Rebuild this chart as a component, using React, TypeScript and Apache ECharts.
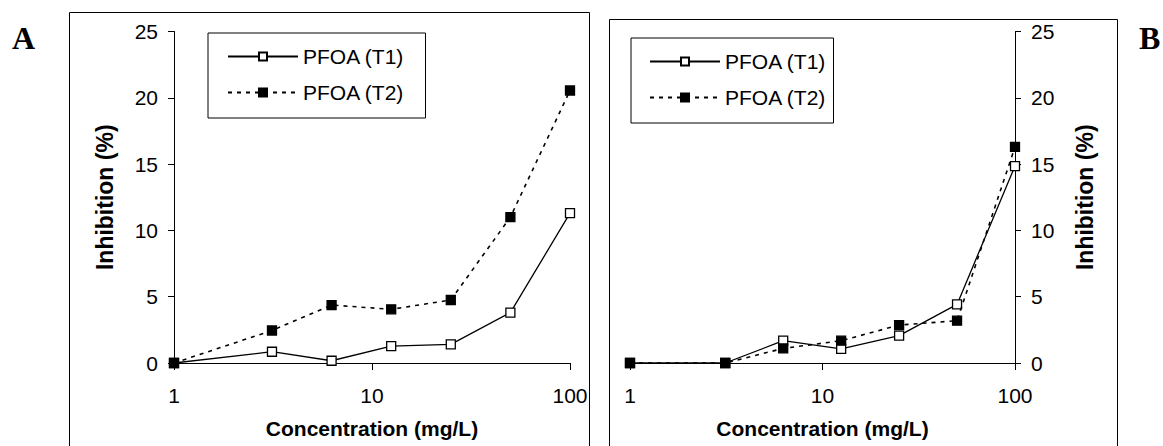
import React, { useEffect, useRef } from "react";
import * as echarts from "echarts";

// ---- data ----
const concentrations = [1, 3.125, 6.25, 12.5, 25, 50, 100];
const panelA_T1 = [0, 0.85, 0.17, 1.28, 1.4, 3.8, 11.3];
const panelA_T2 = [0, 2.45, 4.37, 4.05, 4.75, 11.0, 20.55];
const panelB_T1 = [0, 0, 1.68, 1.07, 2.06, 4.42, 14.85];
const panelB_T2 = [0, 0, 1.1, 1.68, 2.86, 3.19, 16.3];
const seriesNames = ["PFOA (T1)", "PFOA (T2)"];
const panelLabels = ["A", "B"];
const xTitle = "Concentration (mg/L)";
const yTitle = "Inhibition (%)";
const yMin = 0;
const yMax = 25;
const yInterval = 5;
const xMin = 1;
const xMax = 100;

const FONT = "Liberation Sans, Arial, sans-serif";

const pairs = (vals: number[]) => concentrations.map((c, i) => [c, vals[i]]);

export default function App() {
  const ref = useRef<HTMLDivElement>(null);

  useEffect(() => {
    document.body.style.margin = "0";
    const chart = echarts.init(ref.current!, undefined, { renderer: "svg" });

    const xAxis = (gridIndex: number) => ({
      type: "log",
      logBase: 10,
      min: xMin,
      max: xMax,
      gridIndex,
      axisLine: { show: true, onZero: false, lineStyle: { color: "#000", width: 1 } },
      axisTick: { show: true, length: 7, lineStyle: { color: "#000", width: 1 } },
      minorTick: { show: false },
      splitLine: { show: false },
      minorSplitLine: { show: false },
      axisLabel: { color: "#000", fontSize: 21, fontFamily: FONT, margin: 22 },
      name: xTitle,
      nameLocation: "middle",
      nameGap: 55,
      nameTextStyle: { color: "#000", fontSize: 21, fontWeight: "bold", fontFamily: FONT },
    });

    const yAxis = (gridIndex: number, position: "left" | "right") => ({
      type: "value",
      min: yMin,
      max: yMax,
      interval: yInterval,
      gridIndex,
      position,
      axisLine: { show: true, lineStyle: { color: "#000", width: 1 } },
      axisTick: { show: true, length: 6, lineStyle: { color: "#000", width: 1 } },
      splitLine: { show: false },
      axisLabel: { color: "#000", fontSize: 21, fontFamily: FONT, margin: 16 },
      name: yTitle,
      nameLocation: "middle",
      nameRotate: 90,
      nameGap: 58,
      nameTextStyle: { color: "#000", fontSize: 23, fontWeight: "bold", fontFamily: FONT },
    });

    const line = (name: string, vals: number[], idx: number, dashed: boolean) => ({
      type: "line",
      name,
      xAxisIndex: idx,
      yAxisIndex: idx,
      data: pairs(vals),
      symbol: "rect",
      symbolSize: 9,
      showSymbol: true,
      silent: true,
      z: dashed ? 3 : 2,
      lineStyle: { color: "#000", width: dashed ? 1.6 : 1.3, type: dashed ? [4, 5] : "solid" },
      itemStyle: { color: dashed ? "#000" : "#fff", borderColor: "#000", borderWidth: 1.3 },
      emphasis: { disabled: true },
    });

    const legendBase = {
      data: seriesNames,
      orient: "vertical",
      itemWidth: 70,
      itemHeight: 10,
      itemGap: 15,
      borderColor: "#000",
      borderWidth: 1,
      selectedMode: false,
      textStyle: { color: "#000", fontSize: 21, fontFamily: FONT },
    };

    chart.setOption({
      animation: false,
      grid: [
        { left: 174, top: 31.5, width: 396, height: 331.5 },
        { left: 630, top: 31.5, width: 385, height: 331.5 },
      ],
      xAxis: [xAxis(0), xAxis(1)],
      yAxis: [yAxis(0, "left"), yAxis(1, "right")],
      legend: [
        { ...legendBase, left: 208, top: 33, padding: [13, 21, 15, 19] },
        { ...legendBase, left: 631, top: 38, padding: [13, 7, 15, 18] },
      ],
      series: [
        line(seriesNames[0], panelA_T1, 0, false),
        line(seriesNames[1], panelA_T2, 0, true),
        line(seriesNames[0], panelB_T1, 1, false),
        line(seriesNames[1], panelB_T2, 1, true),
      ],
      graphic: [
        {
          type: "rect",
          silent: true,
          shape: { x: 69.5, y: 12.5, width: 520, height: 460 },
          style: { fill: "rgba(0,0,0,0)", stroke: "#000", lineWidth: 1 },
        },
        {
          type: "rect",
          silent: true,
          shape: { x: 609.5, y: 19.5, width: 508, height: 460 },
          style: { fill: "rgba(0,0,0,0)", stroke: "#000", lineWidth: 1 },
        },
        {
          type: "text",
          x: 12,
          y: 38,
          style: {
            text: panelLabels[0],
            font: 'bold 32px "Liberation Serif", "Times New Roman", serif',
            fill: "#000",
            verticalAlign: "middle",
          },
        },
        {
          type: "text",
          x: 1139,
          y: 38,
          style: {
            text: panelLabels[1],
            font: 'bold 32px "Liberation Serif", "Times New Roman", serif',
            fill: "#000",
            verticalAlign: "middle",
          },
        },
      ],
    });

    return () => chart.dispose();
  }, []);

  return (
    <div
      ref={ref}
      style={{ position: "fixed", left: 0, top: 0, width: 1163, height: 446, background: "#fff" }}
    />
  );
}
